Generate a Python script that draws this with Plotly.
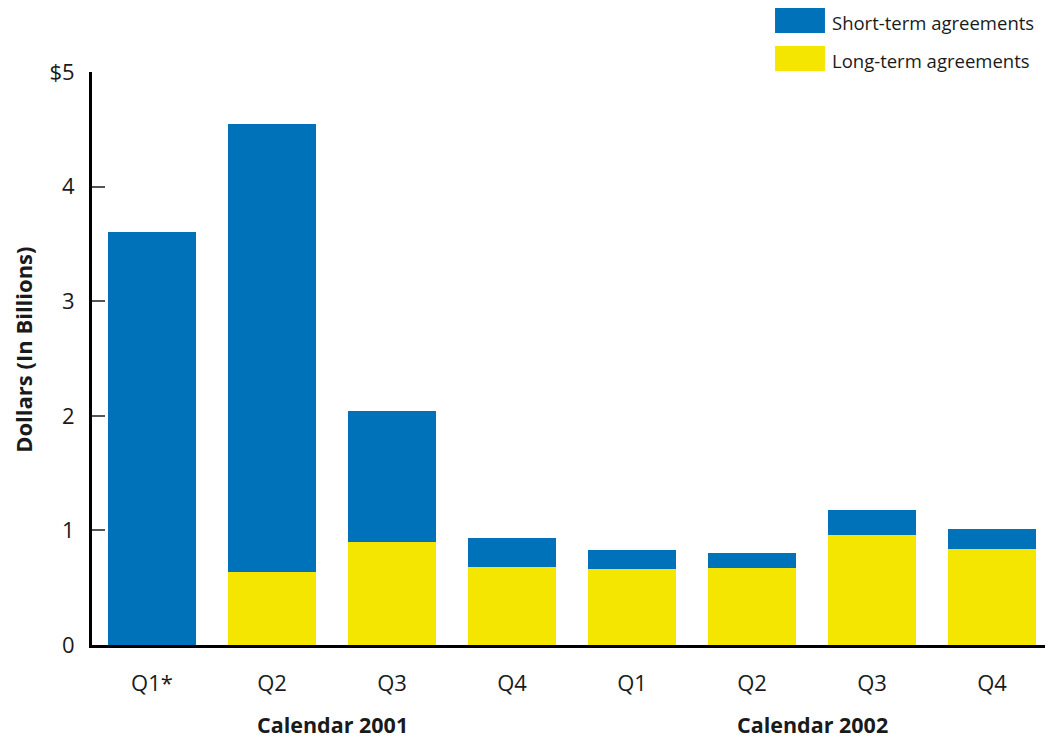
import plotly.graph_objects as go

quarters = ["Q1*", "Q2", "Q3", "Q4", "Q1", "Q2", "Q3", "Q4"]
long_term = [0.0, 0.64, 0.90, 0.68, 0.66, 0.67, 0.96, 0.84]
short_term = [3.60, 3.91, 1.14, 0.25, 0.17, 0.13, 0.22, 0.17]
years = ["Calendar 2001", "Calendar 2002"]
y_ticks = [0, 1, 2, 3, 4, 5]
y_ticktext = ["0", "1", "2", "3", "4", "$5"]

BLUE = "#0072B9"
YELLOW = "#F5E600"
FONT = "Open Sans"

xpos = list(range(len(quarters)))

fig = go.Figure()
fig.add_trace(go.Bar(x=xpos, y=long_term, name="Long-term agreements",
                     marker=dict(color=YELLOW, line=dict(width=0)), width=0.73))
fig.add_trace(go.Bar(x=xpos, y=short_term, name="Short-term agreements",
                     marker=dict(color=BLUE, line=dict(width=0)), width=0.73))

# page body has an 8px margin, so the figure is sized/offset to compensate
fig.update_layout(
    barmode="stack",
    width=1045, height=732,
    margin=dict(l=84, r=1, t=64, b=95),
    plot_bgcolor="white", paper_bgcolor="white",
    showlegend=False,
    font=dict(family=FONT, size=22, color="#1a1a1a"),
)
fig.update_xaxes(
    range=[-0.5, len(quarters) - 0.5],
    tickvals=xpos, ticktext=quarters,
    showgrid=False, zeroline=False,
    showline=True, linecolor="black", linewidth=3,
    ticks="", ticklabelstandoff=17,
    tickfont=dict(family=FONT, size=22),
)
fig.update_yaxes(
    range=[0, 5],
    tickvals=y_ticks, ticktext=y_ticktext,
    showgrid=False, zeroline=False,
    showline=True, linecolor="black", linewidth=3,
    ticks="inside", ticklen=13, tickwidth=1.5, tickcolor="#555555",
    ticklabelstandoff=10,
    tickfont=dict(family=FONT, size=22),
)

# group labels
for i, yr in enumerate(years):
    fig.add_annotation(x=1.5 + 4 * i, y=-0.138, xref="x", yref="paper",
                       text="<b>" + yr + "</b>", showarrow=False,
                       font=dict(family=FONT, size=21.5), xanchor="center",
                       yanchor="middle")

# y title
fig.add_annotation(x=-0.072, y=0.515, xref="paper", yref="paper",
                   text="<b>Dollars (In Billions)</b>", textangle=-90,
                   showarrow=False, xanchor="center", yanchor="middle",
                   font=dict(family=FONT, size=22))

# custom legend
legend_items = [("Short-term agreements", BLUE, 1.1117, 1.0681),
                ("Long-term agreements", YELLOW, 1.0454, 1.0017)]
for name, col, y1, y0 in legend_items:
    fig.add_shape(type="rect", xref="paper", yref="paper",
                  x0=0.7115, x1=0.7635, y0=y0, y1=y1,
                  fillcolor=col, line=dict(width=0))
    fig.add_annotation(x=0.7690, y=(y0 + y1) / 2 - 0.004, xref="paper", yref="paper",
                       text=name, showarrow=False, xanchor="left", yanchor="middle",
                       font=dict(family=FONT, size=18.5))

fig.write_html("out.html")
